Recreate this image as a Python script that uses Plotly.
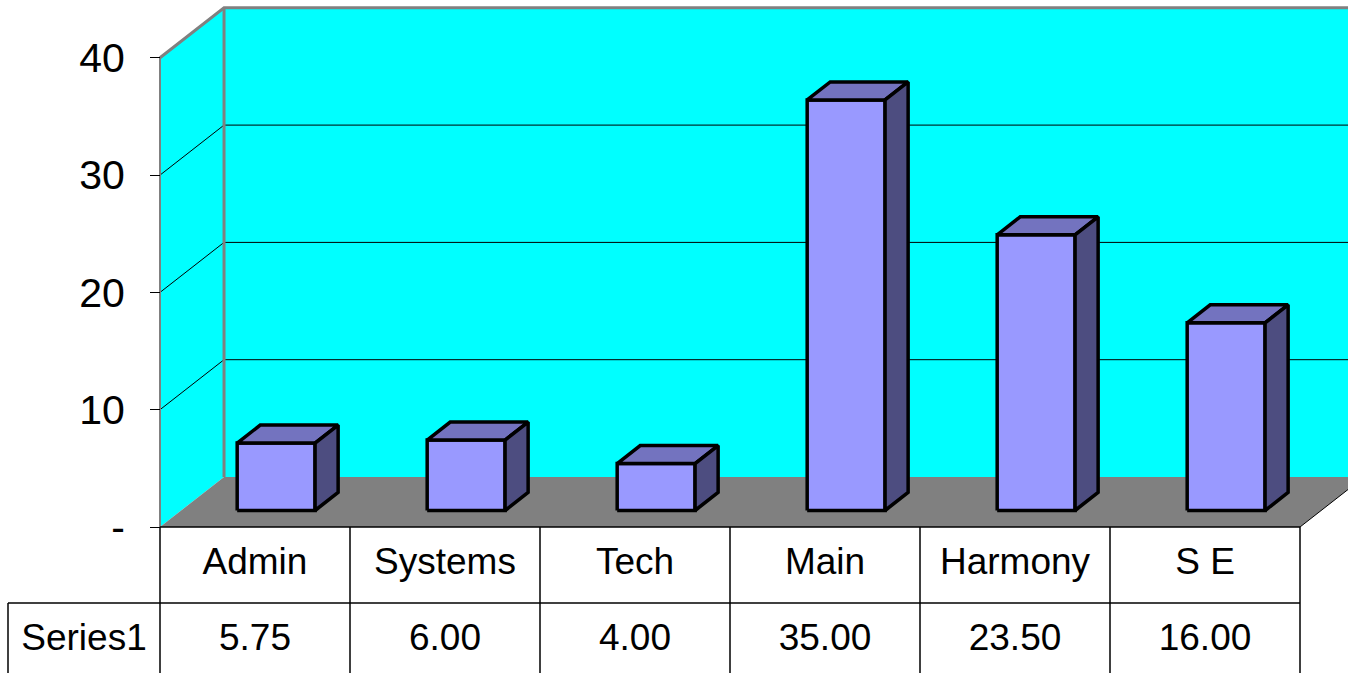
import plotly.graph_objects as go

categories = ["Admin", "Systems", "Tech", "Main", "Harmony", "S E"]
values = [5.75, 6.00, 4.00, 35.00, 23.50, 16.00]
series_name = "Series1"
y_ticks = [0, 10, 20, 30, 40]
y_tick_labels = ["-", "10", "20", "30", "40"]
y_max = 40

# fake 3d: depth offset of the back wall in (category, value) units
DX, DY = 0.337, 4.263
BAR_W = 0.41
BAR_Z0, BAR_Z1 = 0.33, 0.69
ROW_H = 6.48
LEFT_COL = -0.8
BOTTOM = -14

FRONT = "#9999FF"
TOP = "#7373BF"
SIDE = "#4D4D80"
WALL = "#00FFFF"
FLOOR = "#808080"
FONT = "Liberation Sans, Arial, sans-serif"


def pt(x, v, z=0):
    return x + z * DX, v + z * DY


def poly(fig, pts, fill, line_color=None, width=0):
    xs, ys = zip(*[pt(*p) for p in pts])
    fig.add_trace(go.Scatter(
        x=list(xs) + [xs[0]], y=list(ys) + [ys[0]],
        mode="lines", fill="toself", fillcolor=fill,
        line=dict(color=line_color or fill, width=width),
        hoverinfo="skip", showlegend=False))


def seg(fig, pts, color, width=1):
    xs, ys = zip(*[pt(*p) for p in pts])
    fig.add_trace(go.Scatter(
        x=list(xs), y=list(ys), mode="lines",
        line=dict(color=color, width=width),
        hoverinfo="skip", showlegend=False))


n = len(categories)
fig = go.Figure()

# walls and floor
poly(fig, [(0, 0, 1), (n, 0, 1), (n, y_max, 1), (0, y_max, 1)], WALL)
poly(fig, [(0, 0, 0), (0, 0, 1), (0, y_max, 1), (0, y_max, 0)], WALL)
poly(fig, [(0, 0, 0), (n, 0, 0), (n, 0, 1), (0, 0, 1)], FLOOR)

for t in y_ticks[1:-1]:
    seg(fig, [(0, t, 0), (0, t, 1), (n, t, 1)], "black", 1)

seg(fig, [(0, y_max, 0), (0, y_max, 1), (n, y_max, 1)], "#808080", 3)
seg(fig, [(0, 0, 1), (0, y_max, 1)], "#808080", 3)
seg(fig, [(0, 0, 0), (0, y_max, 0)], "#808080", 2)
seg(fig, [(n, 0, 0), (n, 0, 1)], "black", 1)

# bars
for i, v in enumerate(values):
    x0 = i + 0.5 - BAR_W / 2
    x1 = i + 0.5 + BAR_W / 2
    poly(fig, [(x0, 0, BAR_Z0), (x1, 0, BAR_Z0), (x1, v, BAR_Z0), (x0, v, BAR_Z0)], FRONT, "black", 3.5)
    poly(fig, [(x0, v, BAR_Z0), (x1, v, BAR_Z0), (x1, v, BAR_Z1), (x0, v, BAR_Z1)], TOP, "black", 3.5)
    poly(fig, [(x1, 0, BAR_Z0), (x1, 0, BAR_Z1), (x1, v, BAR_Z1), (x1, v, BAR_Z0)], SIDE, "black", 3.5)

# data table
seg(fig, [(0, 0), (n, 0)], "black", 1.5)
seg(fig, [(LEFT_COL, -ROW_H), (n, -ROW_H)], "black", 1.5)
seg(fig, [(LEFT_COL, -ROW_H), (LEFT_COL, BOTTOM)], "black", 1.5)
for k in range(n + 1):
    seg(fig, [(k, 0), (k, BOTTOM)], "black", 1.5)

fig.add_trace(go.Scatter(
    x=[i + 0.5 for i in range(n)], y=[-ROW_H / 2] * n,
    mode="text", text=categories, textposition="middle center",
    textfont=dict(family=FONT, size=37, color="black"),
    hoverinfo="skip", showlegend=False))
fig.add_trace(go.Scatter(
    x=[i + 0.5 for i in range(n)] + [LEFT_COL / 2], y=[-ROW_H * 1.5] * (n + 1),
    mode="text", text=[f"{v:.2f}" for v in values] + [series_name],
    textposition="middle center",
    textfont=dict(family=FONT, size=37, color="black"),
    hoverinfo="skip", showlegend=False))

fig.update_layout(
    width=1348, height=673,
    margin=dict(l=0, r=0, t=0, b=0),
    paper_bgcolor="white", plot_bgcolor="white",
    xaxis=dict(range=[-160 / 190, 1188 / 190], visible=False),
    yaxis=dict(
        range=[-146 / 11.73, 527 / 11.73],
        anchor="free", position=160 / 1348,
        showgrid=False, zeroline=False, showline=False,
        ticks="outside", ticklen=10, tickcolor="black", tickwidth=1,
        tickvals=y_ticks, ticktext=y_tick_labels,
        tickfont=dict(family=FONT, size=41, color="black"),
        ticklabelstandoff=17),
)

fig.write_html("out.html", config={"displayModeBar": False},
               post_script="document.body.style.margin='0';")
